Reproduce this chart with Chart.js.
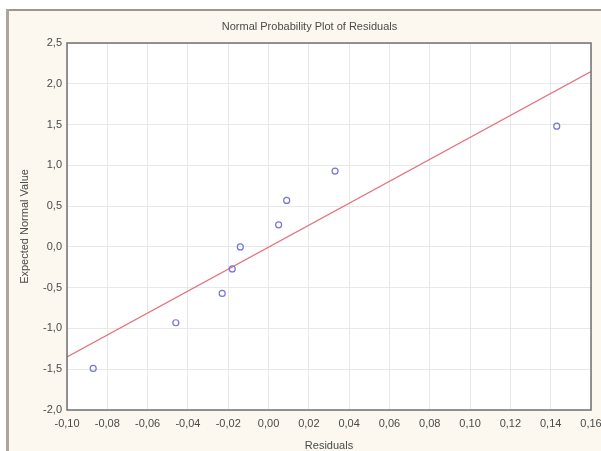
<!DOCTYPE html>
<html>
<head>
<meta charset="utf-8">
<script src="https://cdn.jsdelivr.net/npm/chart.js@4"></script>
<style>
  html, body { margin: 0; padding: 0; background: #ffffff; }
  #wrap { width: 601px; height: 451px; }
</style>
</head>
<body>
<div id="wrap"><canvas id="myChart" width="601" height="451"></canvas></div>
<script>
// residuals vs. expected normal value
const residuals = [-0.087, -0.046, -0.023, -0.018, -0.014, 0.005, 0.009, 0.033, 0.143];
const expectedNormal = [-1.49, -0.93, -0.57, -0.27, 0.00, 0.27, 0.57, 0.93, 1.48];
// fitted reference line (end points at plot edges)
const lineX = [-0.10, 0.16];
const lineY = [-1.35, 2.15];
// axis ticks
const xTicks = [-0.10, -0.08, -0.06, -0.04, -0.02, 0.00, 0.02, 0.04, 0.06, 0.08, 0.10, 0.12, 0.14, 0.16];
const yTicks = [-2.0, -1.5, -1.0, -0.5, 0.0, 0.5, 1.0, 1.5, 2.0, 2.5];

const FONT = "'Liberation Sans', Arial, sans-serif";
const TEXT = '#4a4a4a';
const comma = (v, d) => v.toFixed(d).replace('.', ',');

const frame = {
  id: 'frame',
  beforeDraw(chart) {
    const c = chart.ctx;
    c.save();
    c.fillStyle = '#ffffff';
    c.fillRect(0, 0, chart.width, chart.height);
    c.fillStyle = '#fcf8ef';
    c.fillRect(7, 10, chart.width - 7, chart.height - 10);
    c.fillStyle = '#9c988f';
    c.fillRect(7, 9, chart.width - 7, 2);
    c.fillStyle = '#aaa69d';
    c.fillRect(6, 9, 3, chart.height - 9);
    const a = chart.chartArea;
    c.fillStyle = '#ffffff';
    c.fillRect(a.left, a.top, a.right - a.left, a.bottom - a.top);
    c.restore();
  },
  afterDatasetsDraw(chart) {
    const c = chart.ctx, a = chart.chartArea;
    c.save();
    c.strokeStyle = '#707070';
    c.lineWidth = 1.5;
    c.strokeRect(a.left, a.top, a.right - a.left, a.bottom - a.top);
    c.restore();
  }
};

new Chart(document.getElementById('myChart'), {
  type: 'scatter',
  data: {
    datasets: [{
      label: 'Residuals',
      data: residuals.map((x, i) => ({ x: x, y: expectedNormal[i] })),
      pointStyle: 'circle',
      pointRadius: 3,
      borderColor: '#7474dc',
      backgroundColor: 'rgba(0,0,0,0)',
      borderWidth: 1.2,
      order: 0
    }, {
      type: 'line',
      label: 'Fit',
      data: lineX.map((x, i) => ({ x: x, y: lineY[i] })),
      borderColor: '#e4707c',
      borderWidth: 1.2,
      pointRadius: 0,
      fill: false,
      order: 1
    }]
  },
  options: {
    responsive: false,
    animation: false,
    layout: { padding: { top: 10, left: 18, right: 0, bottom: 0 } },
    plugins: {
      legend: { display: false },
      tooltip: { enabled: false },
      title: {
        display: true,
        text: 'Normal Probability Plot of Residuals',
        color: TEXT,
        font: { family: FONT, size: 11, weight: 'normal' },
        padding: { top: 10.4, bottom: 9.4 }
      }
    },
    scales: {
      x: {
        type: 'linear',
        min: -0.10,
        max: 0.16,
        afterBuildTicks: s => { s.ticks = xTicks.map(v => ({ value: v })); },
        afterFit: s => { s.height = 41; s.paddingRight = 10; },
        grid: { color: '#e8e8e8', drawTicks: false },
        border: { display: false },
        ticks: {
          padding: 7,
          color: TEXT,
          font: { family: FONT, size: 11 },
          maxRotation: 0,
          autoSkip: false,
          callback: v => comma(v, 2)
        },
        title: {
          display: true,
          text: 'Residuals',
          color: TEXT,
          font: { family: FONT, size: 11 },
          padding: { top: 0, bottom: -2 }
        }
      },
      y: {
        type: 'linear',
        min: -2.0,
        max: 2.5,
        afterBuildTicks: s => { s.ticks = yTicks.map(v => ({ value: v })); },
        afterFit: s => { s.width = 49; },
        grid: { color: '#e8e8e8', drawTicks: false },
        border: { display: false },
        ticks: {
          padding: 5,
          color: TEXT,
          font: { family: FONT, size: 11 },
          autoSkip: false,
          callback: v => comma(v, 1)
        },
        title: {
          display: true,
          text: 'Expected Normal Value',
          color: TEXT,
          font: { family: FONT, size: 11 },
          padding: 0
        }
      }
    }
  },
  plugins: [frame]
});
</script>
</body>
</html>
